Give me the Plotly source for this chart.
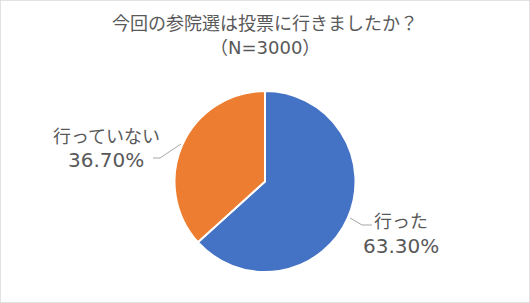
import plotly.graph_objects as go

labels = ["行った", "行っていない"]
values = [63.30, 36.70]
colors = ["#4472C4", "#ED7D31"]
title_lines = ["今回の参院選は投票に行きましたか？", "（N=3000）"]

W, H = 530, 303
FONT = "DejaVu Sans, Noto Sans CJK JP, sans-serif"
TXT = "#595959"

# pie geometry (pixels)
cx, cy, r = 265, 181.5, 90.5

fig = go.Figure(go.Pie(
    labels=labels, values=values, sort=False, direction="clockwise", rotation=0,
    marker=dict(colors=colors, line=dict(color="white", width=2)),
    textinfo="none", hoverinfo="label+percent", showlegend=False,
    domain=dict(x=[(cx - r) / W, (cx + r) / W],
                y=[(H - cy - r) / H, (H - cy + r) / H]),
))

# label positions (pixels, centers) and leader lines
label_pos = [(401, 233.5), (106, 148)]
leader = [[(372, 225), (362, 225), (350, 218)], [(153, 158), (160, 158), (181, 144)]]

annotations = []
for lab, val, (x, y) in zip(labels, values, label_pos):
    annotations.append(dict(
        x=x / W, y=1 - (y - 12) / H, xref="paper", yref="paper", showarrow=False,
        text=lab, align="center", xanchor="center", yanchor="middle",
        font=dict(family=FONT, size=18, color=TXT)))
    annotations.append(dict(
        x=x / W, y=1 - (y + 12) / H, xref="paper", yref="paper", showarrow=False,
        text=f"{val:.2f}%", align="center", xanchor="center", yanchor="middle",
        font=dict(family=FONT, size=20, color=TXT)))
for line, ty in zip(title_lines, [23, 47]):
    annotations.append(dict(
        x=0.5, y=1 - ty / H, xref="paper", yref="paper", showarrow=False,
        text=line, align="center", xanchor="center", yanchor="middle",
        font=dict(family=FONT, size=18, color=TXT)))

shapes = [dict(type="rect", xref="paper", yref="paper", x0=0, y0=0, x1=1, y1=1,
               line=dict(color="#D9D9D9", width=1.5))]
for pts in leader:
    path = "M " + " L ".join(f"{px / W},{1 - py / H}" for px, py in pts)
    shapes.append(dict(type="path", xref="paper", yref="paper", path=path,
                       line=dict(color="#A6A6A6", width=1)))

fig.update_layout(
    width=W, height=H, margin=dict(l=0, r=0, t=0, b=0),
    paper_bgcolor="white", plot_bgcolor="white",
    annotations=annotations, shapes=shapes,
)
fig.write_html("out.html")
